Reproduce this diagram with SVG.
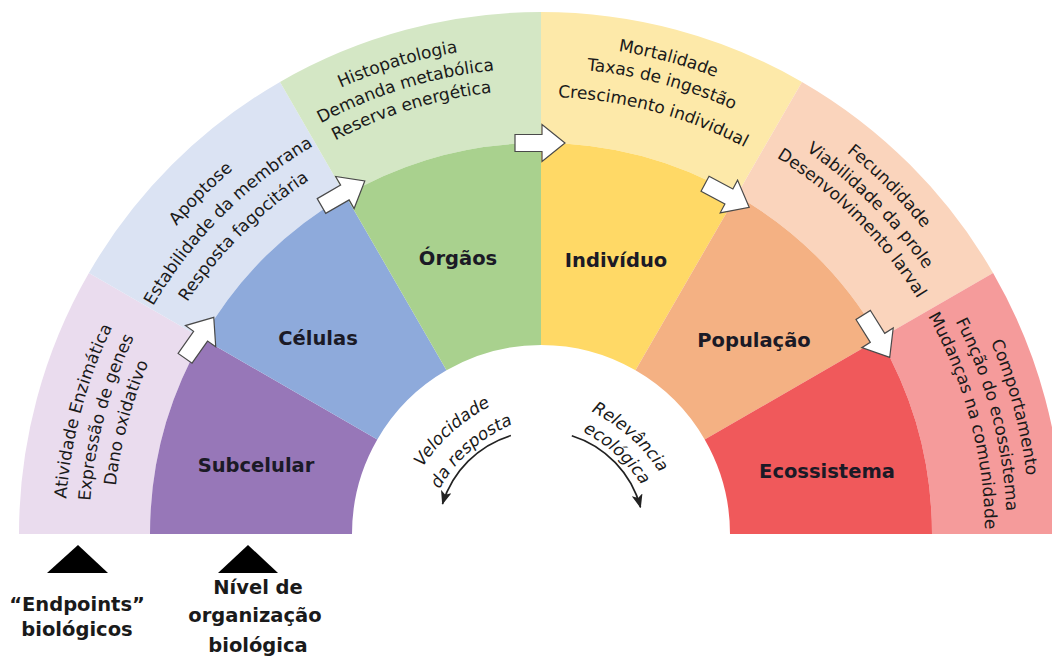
<svg xmlns="http://www.w3.org/2000/svg" width="1052" height="668" viewBox="0 0 1052 668">
<style>
 .lbl{font-family:"DejaVu Sans",Verdana,sans-serif;font-weight:bold;font-size:19.5px;fill:#1b1a26;text-anchor:middle}
 .ep{font-family:"DejaVu Sans",Verdana,sans-serif;font-size:17px;fill:#1a1a1a;text-anchor:middle}
 .ax{font-family:"DejaVu Sans",Verdana,sans-serif;font-style:italic;font-size:17px;fill:#1a1a1a;text-anchor:middle}
 .blk{font-family:"DejaVu Sans",Verdana,sans-serif;font-weight:bold;font-size:19.5px;fill:#1a1a1a;text-anchor:middle}
 .arr{fill:#fff;stroke:#4a4a4a;stroke-width:1.2;stroke-linejoin:miter}
 .cur{fill:none;stroke:#222;stroke-width:1.7;marker-end:url(#ah)}
</style>
<defs>
 <path id="r476" d="M93.7,696.8 A476 476 0 1 1 988.3,696.8"/>
 <path id="r452" d="M116.3,688.6 A452 452 0 1 1 965.7,688.6"/>
 <path id="r428" d="M138.8,680.4 A428 428 0 1 1 943.2,680.4"/>
 <path id="r477" d="M92.8,697.1 A477 477 0 1 1 989.2,697.1"/>
 <path id="r450" d="M118.1,687.9 A450 450 0 1 1 963.9,687.9"/>
 <path id="r423" d="M143.5,678.7 A423 423 0 1 1 938.5,678.7"/>
 <path id="r489" d="M81.5,701.2 A489 489 0 1 1 1000.5,701.2"/>
 <path id="r466" d="M103.1,693.4 A466 466 0 1 1 978.9,693.4"/>
 <path id="r444" d="M123.8,685.8 A444 444 0 1 1 958.2,685.8"/>
 <path id="r437" d="M130.4,683.5 A437 437 0 1 1 951.6,683.5"/>
 <path id="vel1" d="M403.9,504.4 A180 180 0 0 1 541.7,388.7"/>
 <path id="vel2" d="M428.3,513.3 A153 153 0 0 1 546.3,414.3"/>
 <path id="rel1" d="M540.9,394.4 A180 180 0 0 1 678.7,510.1"/>
 <path id="rel2" d="M537,416.1 A158 158 0 0 1 658.1,517.7"/>
 <polygon id="ba" points="-26,-8.5 1,-8.5 1,-18.5 24,0 1,18.5 1,8.5 -26,8.5"/>
 <marker id="ah" viewBox="0 0 14 11" refX="13" refY="5.5" markerWidth="14" markerHeight="11" orient="auto" markerUnits="userSpaceOnUse">
  <path d="M0,0 L14,5.5 L0,11 L3.5,5.5 z" fill="#222"/>
 </marker>
</defs>
<rect width="1052" height="668" fill="#fff"/>

<g id="subcelular">
 <path d="M19,534 A522 522 0 0 1 88.9,273 L202.4,338.5 A391 391 0 0 0 150,534 Z" fill="#eadcee"/>
 <path d="M150,534 A391 391 0 0 1 202.4,338.5 L377.3,439.5 A189 189 0 0 0 352,534 Z" fill="#9777b8"/>
 <text class="lbl" x="256" y="472">Subcelular</text>
 <text class="ep"><textPath href="#r476" startOffset="290.8">Atividade Enzimática</textPath></text>
 <text class="ep"><textPath href="#r452" startOffset="276.1">Expressão de genes</textPath></text>
 <text class="ep"><textPath href="#r428" startOffset="261.4">Dano oxidativo</textPath></text>
</g>
<g id="celulas">
 <path d="M88.9,273 A522 522 0 0 1 280,81.9 L345.5,195.4 A391 391 0 0 0 202.4,338.5 Z" fill="#dbe3f3"/>
 <path d="M202.4,338.5 A391 391 0 0 1 345.5,195.4 L446.5,370.3 A189 189 0 0 0 377.3,439.5 Z" fill="#8eaadb"/>
 <text class="lbl" x="318" y="345">Células</text>
 <text class="ep"><textPath href="#r477" startOffset="541.1">Apoptose</textPath></text>
 <text class="ep"><textPath href="#r450" startOffset="510.5">Estabilidade da membrana</textPath></text>
 <text class="ep"><textPath href="#r423" startOffset="479.9">Resposta fagocitária</textPath></text>
</g>
<g id="orgaos">
 <path d="M280,81.9 A522 522 0 0 1 541,12 L541,143 A391 391 0 0 0 345.5,195.4 Z" fill="#d4e7c5"/>
 <path d="M345.5,195.4 A391 391 0 0 1 541,143 L541,345 A189 189 0 0 0 446.5,370.3 Z" fill="#a9d18e"/>
 <text class="lbl" x="458" y="265">Órgãos</text>
 <text class="ep"><textPath href="#r489" startOffset="793.7">Histopatologia</textPath></text>
 <text class="ep"><textPath href="#r466" startOffset="756.4">Demanda metabólica</textPath></text>
 <text class="ep"><textPath href="#r444" startOffset="720.7">Reserva energética</textPath></text>
</g>
<g id="individuo">
 <path d="M541,12 A522 522 0 0 1 802,81.9 L736.5,195.4 A391 391 0 0 0 541,143 Z" fill="#fde9a9"/>
 <path d="M541,143 A391 391 0 0 1 736.5,195.4 L635.5,370.3 A189 189 0 0 0 541,345 Z" fill="#ffd966"/>
 <text class="lbl" x="616" y="267">Indivíduo</text>
 <text class="ep"><textPath href="#r489" startOffset="1066.8">Mortalidade</textPath></text>
 <text class="ep"><textPath href="#r466" startOffset="1016.7">Taxas de ingestão</textPath></text>
 <text class="ep"><textPath href="#r437" startOffset="953.4">Crescimento individual</textPath></text>
</g>
<g id="populacao">
 <path d="M802,81.9 A522 522 0 0 1 993.1,273 L879.6,338.5 A391 391 0 0 0 736.5,195.4 Z" fill="#fad4bc"/>
 <path d="M736.5,195.4 A391 391 0 0 1 879.6,338.5 L704.7,439.5 A189 189 0 0 0 635.5,370.3 Z" fill="#f4b183"/>
 <text class="lbl" x="754" y="347">População</text>
 <text class="ep"><textPath href="#r489" startOffset="1322.9">Fecundidade</textPath></text>
 <text class="ep"><textPath href="#r466" startOffset="1260.7">Viabilidade da prole</textPath></text>
 <text class="ep"><textPath href="#r444" startOffset="1201.1">Desenvolvimento larval</textPath></text>
</g>
<g id="ecossistema">
 <path d="M993.1,273 A522 522 0 0 1 1063,534 L932,534 A391 391 0 0 0 879.6,338.5 Z" fill="#f59b9b"/>
 <path d="M879.6,338.5 A391 391 0 0 1 932,534 L730,534 A189 189 0 0 0 704.7,439.5 Z" fill="#f0595b"/>
 <text class="lbl" x="827" y="478">Ecossistema</text>
 <text class="ep"><textPath href="#r489" startOffset="1578.9">Comportamento</textPath></text>
 <text class="ep"><textPath href="#r466" startOffset="1504.6">Função do ecossistema</textPath></text>
 <text class="ep"><textPath href="#r444" startOffset="1433.6">Mudanças na comunidade</textPath></text>
</g>

<g id="connectors">
 <use href="#ba" class="arr" transform="translate(200,337) rotate(-55)"/>
 <use href="#ba" class="arr" transform="translate(344,193) rotate(-30)"/>
 <use href="#ba" class="arr" transform="translate(541,143)"/>
 <use href="#ba" class="arr" transform="translate(728,196) rotate(28)"/>
 <use href="#ba" class="arr" transform="translate(877,337) rotate(58)"/>
 <path class="cur" d="M510.9,435.5 A103 103 0 0 0 442.5,503.9"/>
 <path class="cur" d="M571.8,435.7 A103 103 0 0 1 640.5,507.3"/>
</g>

<g id="velocidade">
 <text class="ax"><textPath href="#vel1" startOffset="88">Velocidade</textPath></text>
 <text class="ax"><textPath href="#vel2" startOffset="76.6">da resposta</textPath></text>
</g>
<g id="relevancia">
 <text class="ax"><textPath href="#rel1" startOffset="99.9">Relevância</textPath></text>
 <text class="ax"><textPath href="#rel2" startOffset="88.8">ecológica</textPath></text>
</g>

<g id="legend-endpoints">
 <polygon points="78,545 47,573 108,573" fill="#000"/>
 <text class="blk" x="77" y="611">“Endpoints”</text>
 <text class="blk" x="77" y="636">biológicos</text>
</g>
<g id="legend-nivel">
 <polygon points="248,545 218,573 278,573" fill="#000"/>
 <text class="blk" x="258" y="594">Nível de</text>
 <text class="blk" x="255" y="622">organização</text>
 <text class="blk" x="258" y="652">biológica</text>
</g>
</svg>
